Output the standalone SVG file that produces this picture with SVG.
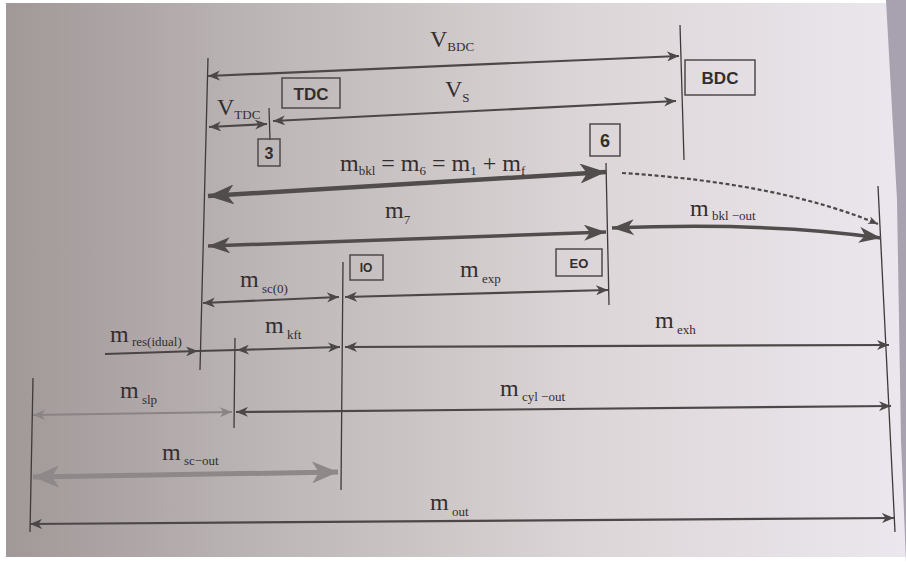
<svg xmlns="http://www.w3.org/2000/svg" width="906" height="562" viewBox="0 0 906 562">
<style>
.ln{stroke:#4a4545;stroke-width:1.6;fill:none}
.vl{stroke:#3f3a3a;stroke-width:1.3;fill:none}
.ar{stroke:#4d4848;stroke-width:2.2;fill:none;marker-start:url(#a);marker-end:url(#a)}
.thk{stroke:#524d4d;stroke-width:4.5;fill:none;marker-start:url(#b);marker-end:url(#b)}
.med{stroke:#524d4d;stroke-width:3.5;fill:none;marker-start:url(#m);marker-end:url(#m)}
.lt{stroke:#8a8484;stroke-width:2;fill:none;marker-start:url(#al);marker-end:url(#al)}
.ltk{stroke:#8e8888;stroke-width:5;fill:none;marker-start:url(#bl);marker-end:url(#bl)}
.box{fill:none;stroke:#4f4a4a;stroke-width:1.5}
.bt{font-family:"Liberation Sans",Arial,sans-serif;font-weight:bold;fill:#332e2e;text-anchor:middle}
.mt{font-family:"Liberation Serif","Times New Roman",serif;fill:#332e2e;font-size:24px}
.sb{font-size:13px}
</style>
<defs>
<linearGradient id="bg" x1="0" y1="0" x2="1" y2="0">
<stop offset="0" stop-color="#a19898"/>
<stop offset="0.3" stop-color="#beb7b7"/>
<stop offset="0.65" stop-color="#dcd6d8"/>
<stop offset="1" stop-color="#ece7ee"/>
</linearGradient>
<marker id="a" markerUnits="userSpaceOnUse" viewBox="0 0 12 10" refX="12" refY="5" markerWidth="12" markerHeight="10" orient="auto-start-reverse"><path d="M0,0 L12,5 L0,10 L3.5,5 z" fill="#4d4848"/></marker>
<marker id="al" markerUnits="userSpaceOnUse" viewBox="0 0 12 10" refX="12" refY="5" markerWidth="12" markerHeight="10" orient="auto-start-reverse"><path d="M0,0 L12,5 L0,10 L3.5,5 z" fill="#8a8484"/></marker>
<marker id="b" markerUnits="userSpaceOnUse" viewBox="0 0 26 20" refX="26" refY="10" markerWidth="26" markerHeight="20" orient="auto-start-reverse"><path d="M0,0 L26,10 L0,20 L7,10 z" fill="#524d4d"/></marker>
<marker id="m" markerUnits="userSpaceOnUse" viewBox="0 0 22 16" refX="22" refY="8" markerWidth="22" markerHeight="16" orient="auto-start-reverse"><path d="M0,0 L22,8 L0,16 L6,8 z" fill="#524d4d"/></marker>
<marker id="bl" markerUnits="userSpaceOnUse" viewBox="0 0 26 22" refX="26" refY="11" markerWidth="26" markerHeight="22" orient="auto-start-reverse"><path d="M0,0 L26,11 L0,22 L7,11 z" fill="#8e8888"/></marker>
<marker id="sm" markerUnits="userSpaceOnUse" viewBox="0 0 10 8" refX="10" refY="4" markerWidth="10" markerHeight="8" orient="auto"><path d="M0,0 L10,4 L0,8 L3,4 z" fill="#4d4848"/></marker>
</defs>
<rect width="906" height="562" fill="#ffffff"/>
<rect x="6" y="3" width="900" height="554" fill="url(#bg)"/>
<polygon points="886,0 897,200 901,440 906,562 906,0" fill="#a8a1b0"/>

<g id="connectors">
<path class="vl" d="M208,58 L200,370"/>
<path class="vl" d="M680,25 L684,160"/>
<path class="vl" d="M606,163 L609,305"/>
<path class="vl" d="M343,262 L341,490"/>
<path class="vl" d="M235,338 L234,428"/>
<path class="vl" d="M33,378 L30,532"/>
<path class="vl" d="M878,186 L895,532"/>
<path class="vl" d="M269,108 L270,140"/>
<path class="ar" d="M208,76 L679,56"/>
<path class="ar" d="M273,121 L676,101"/>
<path class="ar" d="M209,127 L267,124"/>
<path class="thk" d="M208,196 L606,172"/>
<path class="med" d="M208,246 L606,232"/>
<path class="med" d="M612,228 Q770,222 881,238"/>
<path d="M622,173 Q780,183 878,224" stroke="#4d4848" stroke-width="2.2" stroke-dasharray="4,2.5" fill="none" marker-end="url(#sm)"/>
<path class="ar" d="M203,303 L339,297"/>
<path class="ar" d="M345,297 L608,290"/>
<path d="M105,354 L198,351" class="ln" style="stroke-width:2.2" marker-end="url(#a)"/>
<path class="ln" style="stroke-width:2.2" d="M198,351 L237,350"/>
<path class="ar" d="M237,350 L340,347"/>
<path class="ar" d="M345,347 L889,345"/>
<path class="lt" d="M33,415 L232,412"/>
<path class="ar" d="M236,412 L891,406"/>
<path class="ltk" d="M33,477 L338,472"/>
<path class="ar" d="M30,524 L894,518"/>
</g>

<g id="node-bdc"><rect class="box" x="685" y="60" width="70" height="35"/><text class="bt" x="720" y="84" font-size="17">BDC</text></g>
<g id="node-tdc"><rect class="box" x="282" y="78" width="58" height="30"/><text class="bt" x="311" y="100" font-size="17">TDC</text></g>
<g id="node-3"><rect class="box" x="258" y="139" width="22" height="27"/><text class="bt" x="269" y="159" font-size="16">3</text></g>
<g id="node-6"><rect class="box" x="590" y="124" width="30" height="32"/><text class="bt" x="605" y="147" font-size="18">6</text></g>
<g id="node-io"><rect class="box" x="350" y="255" width="33" height="25"/><text class="bt" x="366" y="272" font-size="12">IO</text></g>
<g id="node-eo"><rect class="box" x="556" y="249" width="46" height="27"/><text class="bt" x="579" y="268" font-size="13">EO</text></g>

<g id="labels">
<text class="mt" x="430" y="47" font-size="25">V<tspan class="sb" font-size="15" dy="4">BDC</tspan></text>
<text class="mt" x="445" y="97" font-size="25">V<tspan class="sb" font-size="15" dy="5">S</tspan></text>
<text class="mt" x="217" y="115" font-size="23">V<tspan class="sb" font-size="14" dy="4">TDC</tspan></text>
<text class="mt" x="340" y="171" font-size="21">m<tspan class="sb" dy="4">bkl</tspan><tspan dy="-4"> = m</tspan><tspan class="sb" dy="4">6</tspan><tspan dy="-4"> = m</tspan><tspan class="sb" dy="4">1</tspan><tspan dy="-4"> + m</tspan><tspan class="sb" dy="4">f</tspan></text>
<text class="mt" x="385" y="218">m<tspan class="sb" font-size="14" dy="6">7</tspan></text>
<text class="mt" x="690" y="216">m<tspan class="sb" font-size="12" dy="4"> bkl −out</tspan></text>
<text class="mt" x="240" y="287">m<tspan class="sb" font-size="14" dy="6"> sc(0)</tspan></text>
<text class="mt" x="460" y="277">m<tspan class="sb" font-size="14" dy="6"> exp</tspan></text>
<text class="mt" x="110" y="342">m<tspan class="sb" font-size="12" dy="4"> res(idual)</tspan></text>
<text class="mt" x="265" y="333">m<tspan class="sb" font-size="13" dy="6"> kft</tspan></text>
<text class="mt" x="655" y="328">m<tspan class="sb" font-size="13" dy="6"> exh</tspan></text>
<text class="mt" x="120" y="398">m<tspan class="sb" font-size="13" dy="6"> slp</tspan></text>
<text class="mt" x="500" y="396">m<tspan class="sb" font-size="13" dy="5"> cyl −out</tspan></text>
<text class="mt" x="162" y="460">m<tspan class="sb" font-size="13" dy="5"> sc−out</tspan></text>
<text class="mt" x="430" y="510">m<tspan class="sb" font-size="14" dy="6"> out</tspan></text>
</g>
</svg>
